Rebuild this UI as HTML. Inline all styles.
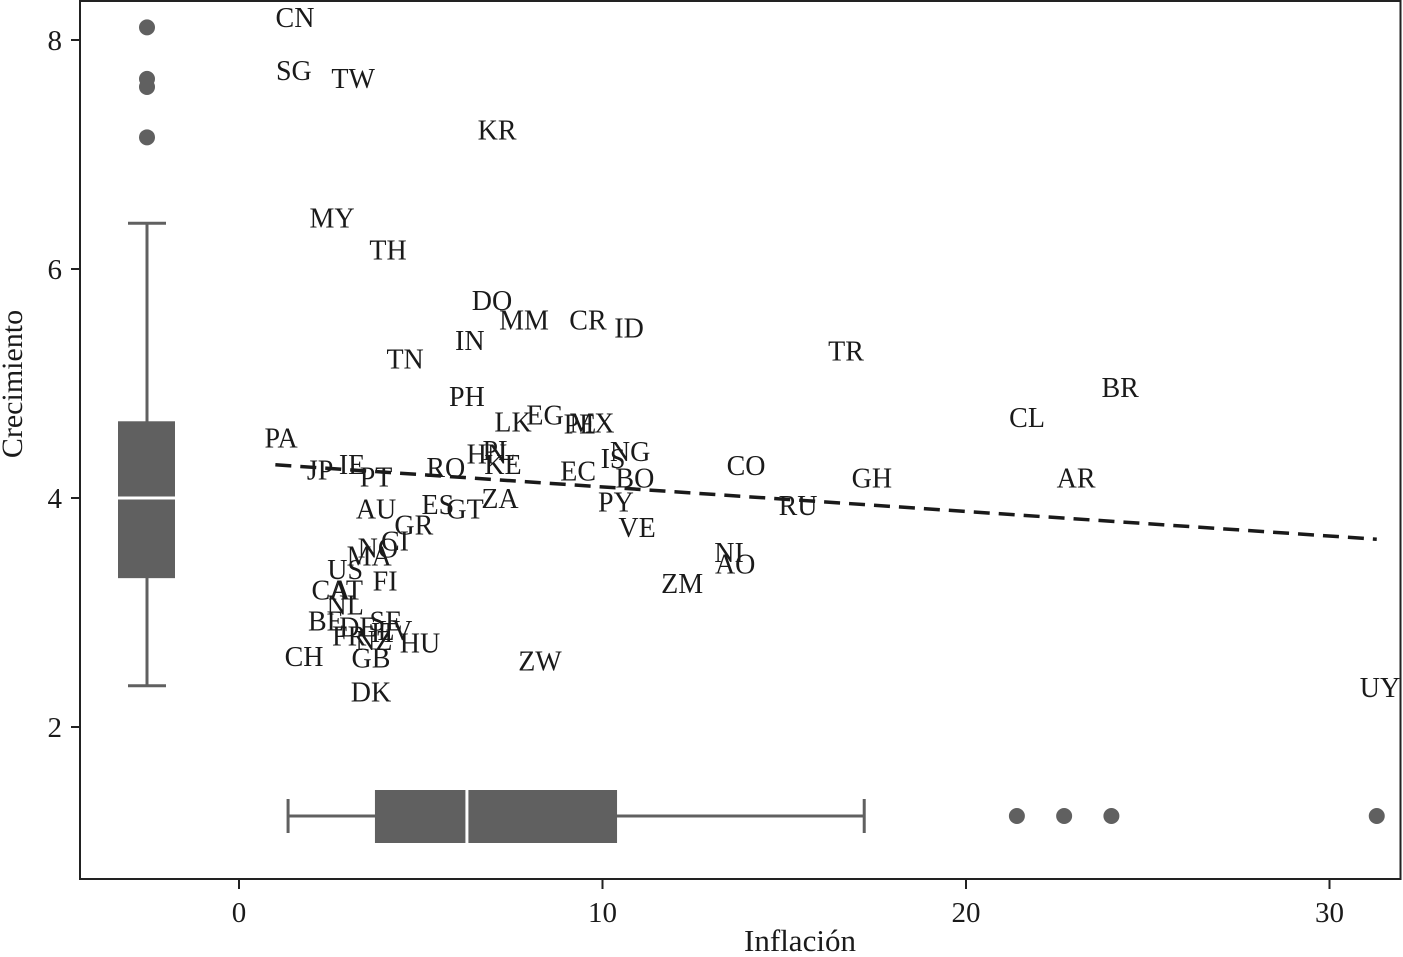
<!DOCTYPE html>
<html><head><meta charset="utf-8"><style>
html,body{margin:0;padding:0;background:#fff;}
svg text{font-family:"Liberation Serif",serif;fill:#1a1a1a;}
</style></head><body>
<svg id="chart" width="1403" height="952" xmlns="http://www.w3.org/2000/svg">
<rect x="80" y="1" width="1320.5" height="878" fill="none" stroke="#222" stroke-width="2"/>
<g id="ticks"></g><g id="marks"></g>
<text x="800" y="951" font-size="31" text-anchor="middle">Inflación</text>
<text transform="translate(22,384) rotate(-90)" font-size="30" text-anchor="middle">Crecimiento</text>
</svg>
<script>
const codes=["CN","SG","TW","KR","MY","TH","DO","MM","CR","ID","IN","TN","TR","PH","BR","CL","LK","EG","PE","MX","PA","NG","IS","HN","PL","KE","CO","IE","JP","RO","PT","EC","BO","GH","AR","ZA","PY","RU","ES","GT","AU","GR","VE","CI","NO","MA","NI","AO","US","ZM","FI","CA","AT","NL","BE","SE","DE","LV","FR","IT","NZ","HU","CH","GB","ZW","DK","UY"];
const inflation=[1.54,1.51,3.14,7.10,2.56,4.10,6.96,7.84,9.60,10.73,6.35,4.57,16.70,6.27,24.24,21.68,7.54,8.42,9.38,9.71,1.16,10.76,10.29,6.82,7.15,7.26,13.95,3.11,2.23,5.69,3.77,9.33,10.89,17.41,23.03,7.18,10.37,15.38,5.47,6.22,3.77,4.81,10.95,4.29,3.82,3.58,13.48,13.65,2.92,12.19,4.02,2.53,2.94,2.92,2.39,4.04,3.27,4.29,3.03,3.99,3.71,4.98,1.79,3.63,8.28,3.63,31.39];
const growth=[8.19,7.73,7.66,7.21,6.44,6.16,5.72,5.55,5.55,5.48,5.37,5.21,5.28,4.88,4.96,4.70,4.66,4.72,4.64,4.65,4.52,4.40,4.34,4.38,4.41,4.29,4.28,4.29,4.24,4.26,4.18,4.23,4.17,4.17,4.17,3.99,3.96,3.93,3.94,3.90,3.90,3.76,3.74,3.62,3.56,3.49,3.52,3.42,3.37,3.25,3.27,3.19,3.19,3.06,2.92,2.92,2.87,2.84,2.79,2.82,2.75,2.73,2.61,2.60,2.57,2.30,2.34];
const fitLine=[[1.0,4.29],[31.3,3.64]];
const yBox=[2.36,3.30,4.00,4.67,6.40];
const yOutliers=[8.11,7.66,7.59,7.15];
const xBox=[1.35,3.74,6.27,10.4,17.2];
const xOutliers=[21.4,22.7,24.0,31.3];
const xTicks=[0,10,20,30];
const yTicks=[2,4,6,8];
const sx=v=>239+v*36.35, sy=v=>498-(v-4)*114.5;
const NS="http://www.w3.org/2000/svg";
function mk(tag,attrs,parent,text){const e=document.createElementNS(NS,tag);for(const k in attrs)e.setAttribute(k,attrs[k]);if(text!==undefined)e.textContent=text;parent.appendChild(e);return e;}
const T=document.getElementById('ticks'),M=document.getElementById('marks');
xTicks.forEach(t=>{const x=sx(t);
 let l=mk('line',{x1:x,x2:x,y1:880,y2:889,stroke:'#222','stroke-width':2},T);
 
 
 let tx=mk('text',{x:x,y:922,'font-size':29,'text-anchor':'middle'},T,String(t));
 
 });
yTicks.forEach(t=>{const y=sy(t);
 let l=mk('line',{x1:71,x2:80,y1:y,y2:y,stroke:'#222','stroke-width':2},T);
 
 
 let tx=mk('text',{x:62,y:y+10,'font-size':29,'text-anchor':'end'},T,String(t));
 
 });
const G='#606060';
{const cx=147;
 let w=mk('line',{x1:cx,x2:cx,y1:sy(yBox[0]),y2:sy(yBox[4]),stroke:G,'stroke-width':3},M);
 
 
 [yBox[0],yBox[4]].forEach(v=>{let c=mk('line',{x1:cx-19,x2:cx+19,y1:sy(v),y2:sy(v),stroke:G,'stroke-width':3},M);
  
  });
 let b=mk('rect',{x:118,y:sy(yBox[3]),width:57,height:sy(yBox[1])-sy(yBox[3]),fill:G},M);
 
 
 let md=mk('line',{x1:118,x2:175,y1:sy(yBox[2]),y2:sy(yBox[2]),stroke:'#fff','stroke-width':3},M);
 
 
 yOutliers.forEach(v=>{let c=mk('circle',{cx:cx,cy:sy(v),r:8,fill:G},M);
  
  });}
{const cy=816;
 let w=mk('line',{x1:sx(xBox[0]),x2:sx(xBox[4]),y1:cy,y2:cy,stroke:G,'stroke-width':3},M);
 
 
 [xBox[0],xBox[4]].forEach(v=>{let c=mk('line',{x1:sx(v),x2:sx(v),y1:cy-17,y2:cy+17,stroke:G,'stroke-width':3},M);
  
  });
 let b=mk('rect',{x:sx(xBox[1]),y:790,width:sx(xBox[3])-sx(xBox[1]),height:53,fill:G},M);
 
 
 let md=mk('line',{x1:sx(xBox[2]),x2:sx(xBox[2]),y1:790,y2:843,stroke:'#fff','stroke-width':3},M);
 
 
 xOutliers.forEach(v=>{let c=mk('circle',{cx:sx(v),cy:cy,r:8,fill:G},M);
  
  });}
codes.forEach((c,i)=>{let t=mk('text',{x:sx(inflation[i]),y:sy(growth[i])+9,'font-size':28,'text-anchor':'middle'},M,c);
 
 });
let f=mk('line',{x1:sx(fitLine[0][0]),y1:sy(fitLine[0][1]),x2:sx(fitLine[1][0]),y2:sy(fitLine[1][1]),stroke:'#1a1a1a','stroke-width':3.5,'stroke-dasharray':'16 9'},M);


</script>
</body></html>
